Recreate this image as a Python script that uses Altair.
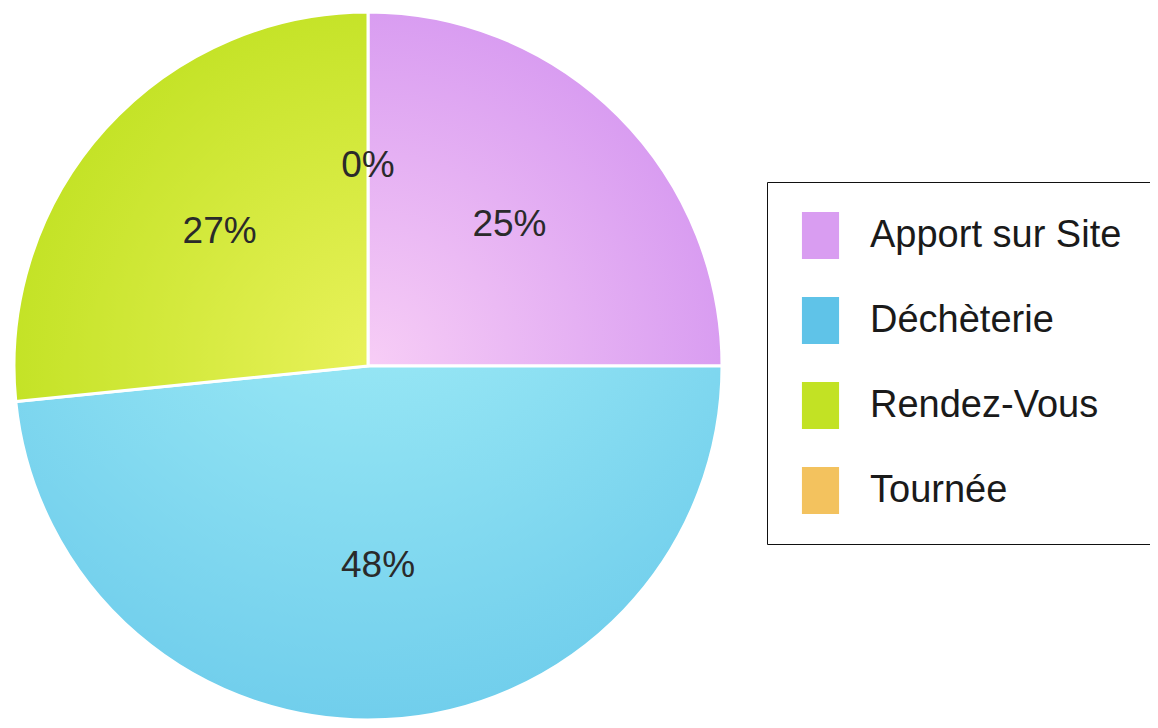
import math
import altair as alt
import pandas as pd

categories = ["Apport sur Site", "Déchèterie", "Rendez-Vous", "Tournée"]
values = [25.0, 48.4, 26.6, 0.0]
labels = ["25%", "48%", "27%", "0%"]
colors = ["#d99df1", "#5fc3e8", "#c2e224", "#f3c25e"]
inner_colors = ["#f7cdf6", "#a6f0f8", "#eaf25c", "#fbe2a0"]

df = pd.DataFrame({"category": categories, "value": values, "label": labels})

CX, CY, R = 360, 358, 354
FONT = "Liberation Sans"
TWO_PI = 2 * math.pi


def slice_gradient(a0, a1, inner, outer):
    """Radial gradient centred on the pie centre, in the slice's bbox units."""
    pts = [(0.0, 0.0), (math.sin(a0), -math.cos(a0)), (math.sin(a1), -math.cos(a1))]
    for k in range(5):
        a = k * math.pi / 2
        if a0 < a < a1:
            pts.append((math.sin(a), -math.cos(a)))
    pad = 1.5 / R
    xs = [p[0] for p in pts]
    ys = [p[1] for p in pts]
    minx, maxx = min(xs) - pad, max(xs) + pad
    miny, maxy = min(ys) - pad, max(ys) + pad
    w, h = maxx - minx, maxy - miny
    fx, fy = -minx / w, -miny / h
    r = 1.0 / min(w, h)
    return {
        "gradient": "radial",
        "x1": fx, "y1": fy, "r1": 0,
        "x2": fx, "y2": fy, "r2": r,
        "stops": [
            {"offset": 0, "color": inner},
            {"offset": 1, "color": outer},
        ],
    }


base = (
    alt.Chart(df)
    .transform_window(idx="row_number()")
    .transform_joinaggregate(total="sum(value)")
    .transform_window(cum="sum(value)", sort=[alt.SortField("idx")], frame=[None, 0])
    .transform_calculate(
        t0="2*PI*(datum.cum - datum.value)/datum.total",
        t1="2*PI*datum.cum/datum.total",
    )
    .transform_calculate(tm="(datum.t0 + datum.t1)/2")
)

pie = base.mark_arc(stroke="white", strokeWidth=3, radius=R).encode(
    theta=alt.Theta("t0:Q", scale=None),
    theta2="t1:Q",
    color=alt.Color(
        "category:N",
        scale=alt.Scale(domain=categories, range=colors),
        legend=alt.Legend(
            title=None,
            orient="none",
            legendX=759,
            legendY=174,
            symbolType="M-0.79,-1H0.79V1H-0.79Z",
            symbolSize=2209,
            symbolStrokeWidth=0,
            symbolOpacity=1,
            labelFont=FONT,
            labelFontSize=38,
            labelColor="#1a1a1a",
            labelOffset=26,
            labelLimit=400,
            rowPadding=38,
            padding=30,
            strokeColor="#111111",
            fillColor="white",
        ),
    ),
    x=alt.value(CX),
    y=alt.value(CY),
)

layers = [pie]
total = sum(values)
cum = 0.0
for cat, val, inner, outer in zip(categories, values, inner_colors, colors):
    a0 = TWO_PI * cum / total
    cum += val
    a1 = TWO_PI * cum / total
    if val <= 0:
        continue
    grad = slice_gradient(a0, a1, inner, outer)
    layers.append(
        base.transform_filter(alt.datum.category == cat)
        .mark_arc(stroke="white", strokeWidth=3, radius=R, fill=grad)
        .encode(
            theta=alt.Theta("t0:Q", scale=None),
            theta2="t1:Q",
            x=alt.value(CX),
            y=alt.value(CY),
        )
    )

text = base.mark_text(radius=200, fontSize=37, font=FONT, color="#2a2a2a").encode(
    theta=alt.Theta("tm:Q", scale=None),
    text="label:N",
    x=alt.value(CX),
    y=alt.value(CY),
)
layers.append(text)

chart = (
    alt.layer(*layers)
    .properties(width=1142, height=712, padding=0, autosize="none", background="white")
    .configure_view(strokeWidth=0)
)

chart.save("out.html", embed_options={"renderer": "svg", "actions": False})
